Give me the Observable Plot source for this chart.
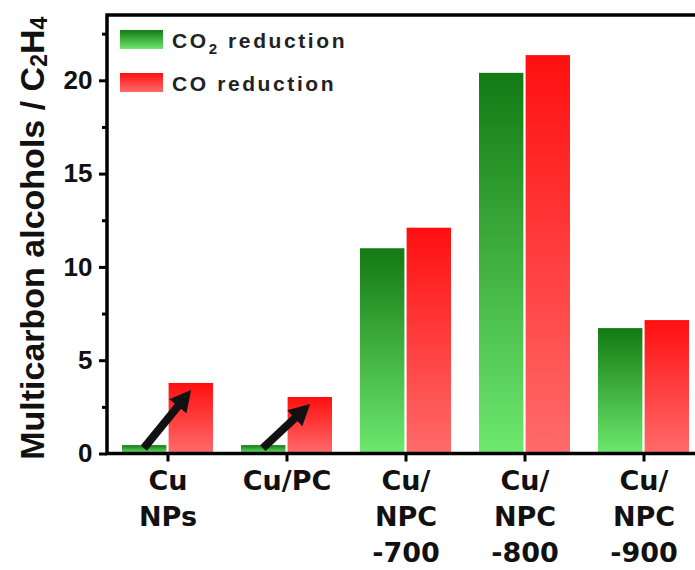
<!DOCTYPE html>
<html><head><meta charset="utf-8">
<script src="https://cdn.jsdelivr.net/npm/d3@7"></script>
<script src="https://cdn.jsdelivr.net/npm/@observablehq/plot@0.6"></script>
<style>body{margin:0;background:#fff;overflow:hidden;} #chart svg{display:block;max-width:none;}</style>
</head><body><div id="chart"></div>
<script>
const categories = ["Cu\nNPs", "Cu/PC", "Cu/\nNPC\n-700", "Cu/\nNPC\n-800", "Cu/\nNPC\n-900"];
const co2Values = [0.45, 0.45, 11.0, 20.4, 6.72];
const coValues = [3.78, 3.03, 12.1, 21.35, 7.15];
const seriesLabels = [["CO", "2", " reduction"], ["CO", "", " reduction"]];
const yTicks = [0, 5, 10, 15, 20];
const yMinorTicks = [2.5, 7.5, 12.5, 17.5, 22.5];
const arrowCats = ["Cu\nNPs", "Cu/PC"];
const yLabelParts = [["Multicarbon alcohols / C", false], ["2", true], ["H", false], ["4", true]];

const rows = categories.map((c, i) => ({cat: c, co2: co2Values[i], co: coValues[i]}));
const AR = "Liberation Sans, Arial, sans-serif";

const defsMark = () => {
  const g = d3.create("svg:g");
  const defs = g.append("defs");
  const mk = (id, top, bot) => {
    const lg = defs.append("linearGradient").attr("id", id).attr("x1", 0).attr("y1", 0).attr("x2", 0).attr("y2", 1);
    lg.append("stop").attr("offset", "0%").attr("stop-color", top);
    lg.append("stop").attr("offset", "100%").attr("stop-color", bot);
  };
  mk("gGreen", "#137a13", "#6ee86e");
  mk("gRed", "#ff0f0f", "#ff6b6b");
  return g.node();
};

const arrowMark = (index, scales) => {
  const g = d3.create("svg:g");
  const x = scales.x, y = scales.y;
  const bw = x.bandwidth ? x.bandwidth() : 91.3;
  for (const c of arrowCats) {
    const r = rows.find(d => d.cat === c);
    const x0 = x(c);
    const tx = x0 + 0.24 * bw, ty = y(r.co2) + 3;
    const hx = x0 + 0.76 * bw, hy = y(r.co) + 7;
    const ang = Math.atan2(hy - ty, hx - tx);
    const hl = 21, hw = 11;
    const bx = hx - hl * Math.cos(ang), by = hy - hl * Math.sin(ang);
    g.append("line").attr("x1", tx).attr("y1", ty).attr("x2", bx + 2 * Math.cos(ang)).attr("y2", by + 2 * Math.sin(ang))
      .attr("stroke", "#111").attr("stroke-width", 8);
    const px = -Math.sin(ang), py = Math.cos(ang);
    g.append("polygon").attr("points", [[hx, hy], [bx + hw * px, by + hw * py], [bx - hw * px, by - hw * py]].map(p => p.join(",")).join(" "))
      .attr("fill", "#111");
  }
  return g.node();
};

const frameMark = (index, scales, values, dims) => {
  const g = d3.create("svg:g").attr("stroke", "#000").attr("stroke-width", 3.5).attr("fill", "none");
  const L = dims.marginLeft, T = dims.marginTop, R = dims.width - dims.marginRight, B = dims.height - dims.marginBottom;
  g.append("path").attr("d", `M${R},${T}H${L}V${B}H${R}`).attr("stroke-linecap", "square");
  return g.node();
};

const legendMark = (index, scales, values, dims) => {
  const g = d3.create("svg:g");
  const fills = ["url(#gGreen)", "url(#gRed)"];
  const left = dims.marginLeft + 13;
  const tops = [dims.marginTop + 15, dims.marginTop + 58];
  seriesLabels.forEach((lab, i) => {
    g.append("rect").attr("x", left).attr("y", tops[i]).attr("width", 43).attr("height", 19).attr("fill", fills[i]);
    const t = g.append("text").attr("x", left + 52).attr("y", tops[i] + 18)
      .attr("text-anchor", "start")
      .attr("font-family", AR).attr("font-weight", "bold").attr("font-size", 21)
      .attr("letter-spacing", 2.6).attr("fill", "#222");
    t.append("tspan").text(lab[0]);
    if (lab[1]) t.append("tspan").attr("font-size", 15).attr("dy", 6).text(lab[1]);
    t.append("tspan").attr("dy", lab[1] ? -6 : 0).text(lab[2]);
  });
  return g.node();
};

const yLabelMark = (index, scales, values, dims) => {
  const g = d3.create("svg:g");
  const cy = (dims.marginTop + dims.height - dims.marginBottom) / 2 + 4;
  const t = g.append("text").attr("transform", `translate(44,${cy}) rotate(-90)`)
    .attr("text-anchor", "middle").attr("font-family", AR).attr("font-weight", "bold")
    .attr("font-size", 34).attr("fill", "#111");
  let prevSub = false;
  for (const [s, sub] of yLabelParts) {
    const ts = t.append("tspan").text(s);
    if (sub) ts.attr("font-size", 23).attr("dy", prevSub ? 0 : 3);
    else if (prevSub) ts.attr("dy", -3);
    prevSub = sub;
  }
  return g.node();
};

const chart = Plot.plot({
  width: 695,
  height: 570,
  marginLeft: 107,
  marginRight: 0,
  marginTop: 15,
  marginBottom: 116.5,
  x: {type: "band", domain: categories, range: [107, 704], paddingInner: 0.235, paddingOuter: 0.117},
  y: {domain: [0, 23.5]},
  style: {background: "#fff", color: "#111"},
  marks: [
    defsMark,
    Plot.barY(rows, {x: "cat", y: "co2", fill: "url(#gGreen)", insetRight: 46.6}),
    Plot.barY(rows, {x: "cat", y: "co", fill: "url(#gRed)", insetLeft: 46.6}),
    arrowMark,
    Plot.axisY(yMinorTicks, {tickSize: 5, tickFormat: () => "", stroke: "#000", strokeOpacity: 1, strokeWidth: 3, label: null}),
    Plot.axisY(yTicks, {tickSize: 8, tickPadding: 7, stroke: "#000", strokeOpacity: 1, strokeWidth: 3, fontSize: 26, fontWeight: "bold", fontFamily: AR, fill: "#111", label: null}),
    Plot.axisX({tickSize: 8, tickPadding: 3, stroke: "#000", strokeOpacity: 1, strokeWidth: 3, fontSize: 27, fontWeight: "bold", fontFamily: "DejaVu Sans, sans-serif", fill: "#111", lineHeight: 1.32, label: null}),
    frameMark,
    legendMark,
    yLabelMark
  ]
});
document.getElementById("chart").append(chart);
</script>
</body></html>
